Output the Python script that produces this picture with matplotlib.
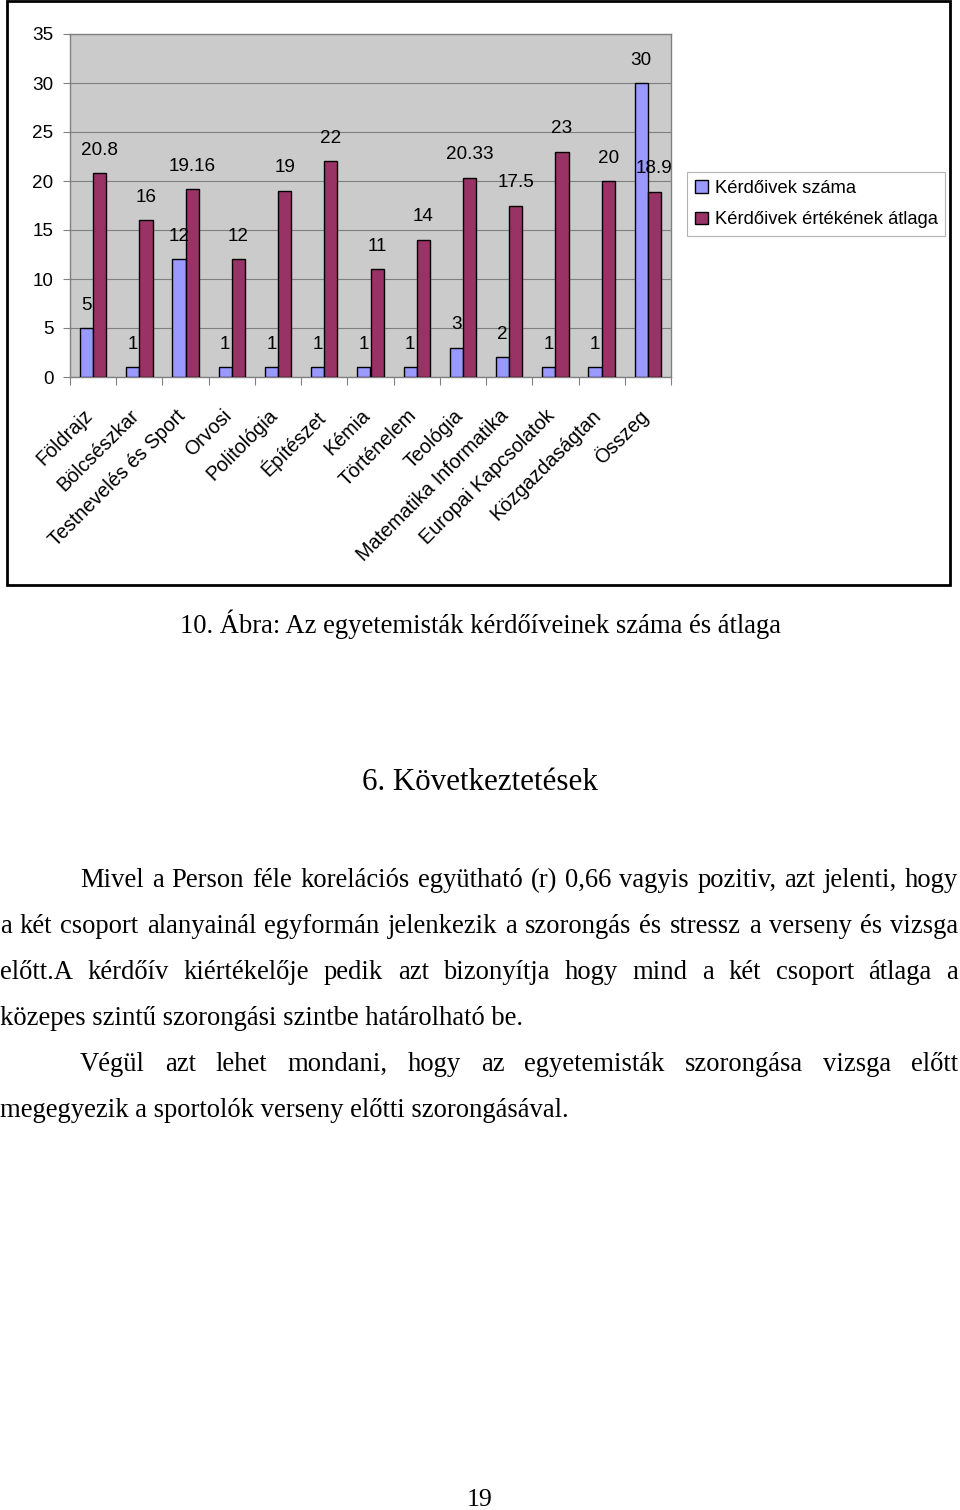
import matplotlib
matplotlib.use("Agg")
import matplotlib.pyplot as plt
import matplotlib.transforms as mtransforms
import numpy as np
from matplotlib.patches import Rectangle

# Adatok
kategoriak = ['Földrajz', 'Bölcsészkar', 'Testnevelés és Sport', 'Orvosi', 'Politológia',
              'Építészet', 'Kémia', 'Történelem', 'Teológia', 'Matematika Informatika',
              'Europai Kapcsolatok', 'Közgazdaságtan', 'Összeg']
kerdoivek_szama = [5, 1, 12, 1, 1, 1, 1, 1, 3, 2, 1, 1, 30]
kerdoivek_atlaga = [20.8, 16, 19.16, 12, 19, 22, 11, 14, 20.33, 17.5, 23, 20, 18.9]
cimkek_szama = ['5', '1', '12', '1', '1', '1', '1', '1', '3', '2', '1', '1', '30']
cimkek_atlaga = ['20.8', '16', '19.16', '12', '19', '22', '11', '14', '20.33', '17.5', '23', '20', '18.9']
y_ticks = [0, 5, 10, 15, 20, 25, 30, 35]

felirat = '10. Ábra: Az egyetemisták kérdőíveinek száma és átlaga'
fejezet = '6. Következtetések'
sorok = [
    ('Mivel a Person féle korelációs együtható (r) 0,66 vagyis pozitiv, azt jelenti, hogy', 80, True),
    ('a két csoport alanyainál egyformán jelenkezik a szorongás és stressz a verseny és vizsga', 0, True),
    ('előtt.A kérdőív kiértékelője pedik azt bizonyítja hogy mind a két csoport átlaga  a', 0, True),
    ('közepes szintű szorongási szintbe határolható be.', 0, False),
    ('Végül azt lehet mondani, hogy az egyetemisták szorongása vizsga előtt', 80, True),
    ('megegyezik a sportolók verseny előtti szorongásával.', 0, False),
]
oldalszam = '19'

W, H = 960, 1510
fig = plt.figure(figsize=(W / 100, H / 100), dpi=100)
fig.patch.set_facecolor('white')

sans = 'Liberation Sans'
serif = 'Liberation Serif'
fs = 13.6

# Diagram
ax = fig.add_axes([70 / W, 1 - 377 / H, (671 - 70) / W, (377 - 34) / H])
ax.set_facecolor('#cbcbcb')
n = len(kategoriak)
x = np.arange(n)
bw = 1 / 3.5
ax.bar(x - bw / 2, kerdoivek_szama, bw, color='#9999ff', edgecolor='black', linewidth=1.0,
       label='Kérdőivek száma', zorder=3)
ax.bar(x + bw / 2, kerdoivek_atlaga, bw, color='#993366', edgecolor='black', linewidth=1.0,
       label='Kérdőivek értékének átlaga', zorder=3)
for xi, v, c in zip(x, kerdoivek_szama, cimkek_szama):
    ax.annotate(c, (xi - bw / 2, v), xytext=(0, 16.5), textcoords='offset points',
                ha='center', va='center', fontsize=fs, family=sans, zorder=4)
for xi, v, c in zip(x, kerdoivek_atlaga, cimkek_atlaga):
    ax.annotate(c, (xi + bw / 2, v), xytext=(0, 16.5), textcoords='offset points',
                ha='center', va='center', fontsize=fs, family=sans, zorder=4)

ax.set_xlim(-0.5, n - 0.5)
ax.set_ylim(0, 35)
ax.set_yticks(y_ticks)
ax.set_yticklabels([str(t) for t in y_ticks], fontsize=fs, family=sans)
ax.yaxis.grid(True, color='#808080', linewidth=0.8, zorder=0)
ax.set_axisbelow(True)
ax.set_xticks(np.arange(n + 1) - 0.5)
ax.set_xticklabels([])
ax.tick_params(axis='x', length=6, color='#808080', direction='out')
ax.tick_params(axis='y', length=5, color='#808080', pad=7)
for s in ax.spines.values():
    s.set_color('#808080')
    s.set_linewidth(1.0)

# Kategória feliratok (45 fokban döntve)
eltolas = mtransforms.ScaledTranslation(-10 / 100, -29 / 100, fig.dpi_scale_trans)
for xi, k in zip(x, kategoriak):
    ax.text(xi, 0, k, transform=ax.get_xaxis_transform() + eltolas, rotation=45,
            ha='right', va='top', rotation_mode='anchor', fontsize=14.2, family=sans,
            clip_on=False)

leg = ax.legend(loc='upper left', bbox_to_anchor=(687 / W, 1 - 172 / H),
                bbox_transform=fig.transFigure, frameon=True, fancybox=False,
                prop={'family': sans, 'size': 13.2}, handlelength=0.7, handleheight=0.7,
                handletextpad=0.4, labelspacing=0.8, borderpad=0.42, borderaxespad=0)
leg.get_frame().set_edgecolor('#a0a0a0')
leg.get_frame().set_linewidth(0.8)

# Keret
fig.patches.append(Rectangle((7 / W, 1 - 585 / H), (950 - 7) / W, (585 - 1) / H,
                             transform=fig.transFigure, fill=False, edgecolor='black',
                             linewidth=2))

# Szöveg
fig.text(480 / W, 1 - 633 / H, felirat, ha='center', va='baseline', fontsize=19.2, family=serif)
fig.text(480 / W, 1 - 790 / H, fejezet, ha='center', va='baseline', fontsize=22.3, family=serif)

renderer = fig.canvas.get_renderer()
meret = 19.2
alap = 887
for i, (sor, bal, sorkizart) in enumerate(sorok):
    yb = 1 - (alap + 46 * i) / H
    if not sorkizart:
        fig.text(bal / W, yb, sor, ha='left', va='baseline', fontsize=meret, family=serif)
        continue
    szavak = sor.split()
    tk = [fig.text(0, yb, s, ha='left', va='baseline', fontsize=meret, family=serif) for s in szavak]
    sz = [t.get_window_extent(renderer).width for t in tk]
    koz = (958 - bal - sum(sz)) / (len(szavak) - 1)
    xp = bal
    for t, w in zip(tk, sz):
        t.set_x(xp / W)
        xp += w + koz

fig.text(480 / W, 1 - 1506 / H, oldalszam, ha='center', va='baseline', fontsize=18.5, family=serif)

fig.savefig('out.png', dpi=100)
